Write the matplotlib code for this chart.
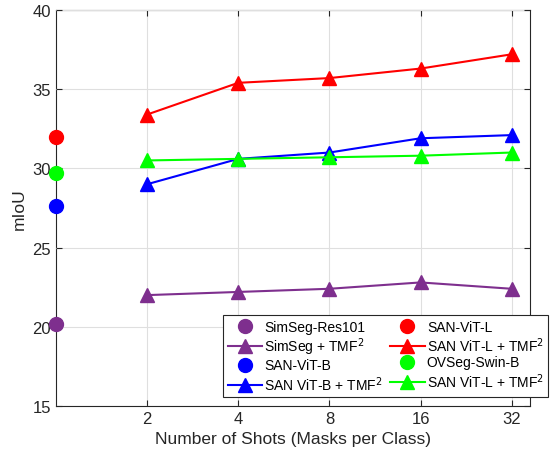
import matplotlib.pyplot as plt
import numpy as np

plt.rcParams['font.family'] = ['Liberation Sans', 'DejaVu Sans']

shots = [2, 4, 8, 16, 32]
simseg_base = 20.2
san_l_base = 32.0
san_b_base = 27.6
ovseg_base = 29.7
simseg_tmf = [22.0, 22.2, 22.4, 22.8, 22.4]
san_l_tmf = [33.4, 35.4, 35.7, 36.3, 37.2]
san_b_tmf = [29.0, 30.6, 31.0, 31.9, 32.1]
ovseg_tmf = [30.5, 30.6, 30.7, 30.8, 31.0]

purple = '#7E2F8E'
dark = '#262626'

fig = plt.figure(figsize=(5.56, 4.6), dpi=100)
ax = fig.add_axes([0.1007, 0.1152, 0.8523, 0.861])

x = np.log2(shots)
ms = 10
lw = 1.5
ax.plot([0], [simseg_base], 'o', color=purple, ms=ms, clip_on=False, label='SimSeg-Res101')
ax.plot(x, simseg_tmf, '^-', color=purple, ms=ms, lw=lw, label='SimSeg + TMF$^2$')
ax.plot([0], [san_b_base], 'o', color='blue', ms=ms, clip_on=False, label='SAN-ViT-B')
ax.plot(x, san_b_tmf, '^-', color='blue', ms=ms, lw=lw, label='SAN ViT-B + TMF$^2$')
ax.plot([0], [san_l_base], 'o', color='red', ms=ms, clip_on=False, label='SAN-ViT-L')
ax.plot(x, san_l_tmf, '^-', color='red', ms=ms, lw=lw, label='SAN ViT-L + TMF$^2$')
ax.plot([0], [ovseg_base], 'o', color='#00FF00', ms=ms, clip_on=False, label='OVSeg-Swin-B')
ax.plot(x, ovseg_tmf, '^-', color='#00FF00', ms=ms, lw=lw, label='SAN ViT-L + TMF$^2$')

ax.set_xlim(0, 5.2)
ax.set_ylim(15, 40)
ax.set_xticks(x)
ax.set_xticklabels([str(s) for s in shots])
ax.set_yticks([15, 20, 25, 30, 35, 40])
ax.grid(True, color='#dfdfdf', lw=0.8)
ax.set_axisbelow(True)
ax.tick_params(direction='in', colors=dark, labelsize=12, length=4, top=True, right=True,
               labelcolor=dark)
for s in ax.spines.values():
    s.set_color(dark)
    s.set_linewidth(0.8)
    s.set_zorder(0)
ax.set_xlabel('Number of Shots (Masks per Class)', fontsize=12.5, color=dark)
ax.set_ylabel('mIoU', fontsize=12.5, color=dark)

leg = fig.legend(ncol=2, loc='lower right', bbox_to_anchor=(0.986, 0.135), fontsize=10,
                 fancybox=False, edgecolor=dark, framealpha=1, handlelength=2.5,
                 labelspacing=0.12, columnspacing=0.5, handletextpad=0.15, borderpad=0.3,
                 borderaxespad=0)
leg.get_frame().set_linewidth(0.8)

fig.savefig('out.png', dpi=100)
